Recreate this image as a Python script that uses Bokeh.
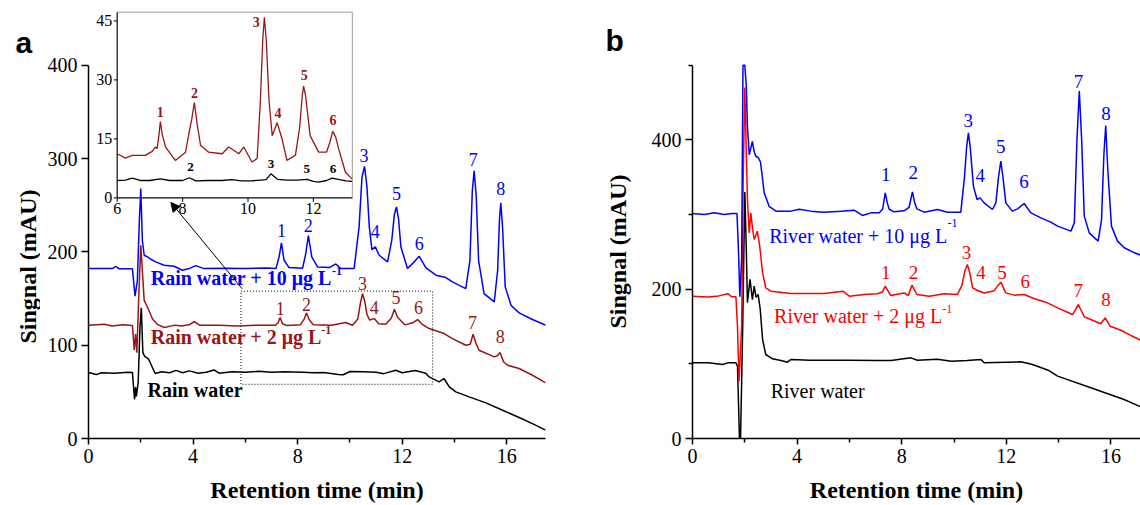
import math
from bokeh.plotting import figure
from bokeh.layouts import row
from bokeh.models import Range1d, FixedTicker, Arrow, NormalHead
from bokeh.core.properties import value
from bokeh.embed import file_html
from bokeh.resources import INLINE

SERIF = "Liberation Serif"
SANS = "Liberation Sans"
BLUE = "#0000FF"
DRED = "#9A1515"
RED = "#FF0000"
BLACK = "#000000"

# ---------------- data: panel a (retention time [min], signal [mAU]) ----------------
a_blue = [(0.0,182.1),(0.92,182.1),(1.04,184.6),(1.17,181.8),(1.68,181.8),(1.78,152.5),(1.87,169.6),(1.94,230),(2.0,268),
          (2.06,212.5),(2.13,196.4),(2.26,194.6),(2.38,192.1),(2.57,189.3),(2.89,185.7),(3.28,184.6),(3.59,180.3),(3.85,182.1),
          (4.1,185.3),(4.42,182.1),(5.25,182.5),(6.02,182.1),(6.78,182.8),(7.17,182.1),(7.29,194.6),(7.38,209.6),(7.48,191),
          (7.67,183.2),(8.19,182.5),(8.31,198.2),(8.41,217.5),(8.54,194.6),(8.76,183.9),(9.21,183.2),(9.46,187.1),(9.65,182.1),
          (10.16,182.1),(10.35,226.8),(10.46,280),(10.56,291.7),(10.65,270),(10.74,226.8),(10.84,202.5),(10.97,205.3),
          (11.12,196.4),(11.44,189.3),(11.6,212.5),(11.7,240),(11.78,248.2),(11.86,235),(11.95,205.3),(12.2,182.1),(12.46,189.3),
          (12.65,195.3),(12.9,183.2),(13.29,175),(13.67,172.5),(13.92,167.8),(14.43,160.7),(14.59,191),(14.68,265),(14.75,286.8),
          (14.83,260),(14.92,191),(15.13,155.3),(15.52,146.4),(15.65,180.3),(15.72,235),(15.77,252.5),(15.84,225),(15.94,162.5),
          (16.16,142.8),(16.47,134.6),(16.98,127.5),(17.49,121.4)]
a_dred = [(0.0,121.4),(0.6,122.5),(0.9,120.5),(1.3,121.8),(1.68,121.0),(1.75,95),(1.8,112),(1.85,92),(1.92,150),(2.0,207),
          (2.06,180),(2.13,148),(2.3,138),(2.45,128),(2.65,122),(2.9,119),(3.3,121.5),(3.55,120.5),(3.85,121.8),(4.04,125.3),
          (4.25,121.4),(5.0,121.4),(5.7,120.7),(6.5,121.4),(7.15,121.4),(7.25,124),(7.33,129.6),(7.42,123),(7.6,121),(8.1,121.8),
          (8.25,128),(8.34,134.6),(8.45,127),(8.6,121.8),(9.3,121.4),(9.84,124.3),(10.1,121.4),(10.3,128),(10.4,145),(10.48,155.3),
          (10.56,148),(10.65,133),(10.75,127),(10.93,128.5),(11.1,123),(11.37,122.5),(11.58,129),(11.7,138.5),(11.82,130),
          (12.1,121.8),(12.4,124),(12.59,127.5),(12.78,122),(13.03,117.8),(13.6,112.5),(13.92,107.1),(14.43,99.9),(14.6,101),
          (14.71,111.8),(14.82,102),(14.94,94.6),(15.52,87.5),(15.65,89),(15.74,92.1),(15.88,82),(16.03,78.5),(16.47,75),
          (16.98,67.8),(17.49,59.6)]
a_black = [(0.0,70.7),(0.3,68.5),(0.5,70.5),(1.0,70.0),(1.5,71),(1.68,70.7),(1.76,42),(1.8,55),(1.83,45),(1.9,60),(1.97,120),
           (2.02,140),(2.08,92),(2.15,88),(2.3,85),(2.55,69.6),(2.8,71.5),(3.1,70.5),(3.35,73),(3.6,70.5),(3.85,72.5),(4.2,70),
           (4.5,71),(4.8,73.5),(5.0,70),(5.5,71.5),(6.0,71),(6.5,72),(7.0,71),(7.5,71.5),(8.2,71),(8.6,70.5),(9.0,70.8),
           (9.55,68.5),(9.75,68.3),(10.0,71.8),(10.5,71.5),(11.0,71),(11.3,69.5),(11.75,73.2),(12.0,70.5),(12.5,72.8),(12.9,70),
           (13.03,66),(13.41,60.7),(13.6,64.3),(13.8,55.3),(14.05,50),(14.56,44.6),(15.2,38.2),(15.84,30.3),(16.47,22.5),
           (16.98,16),(17.49,8.9)]

# inset (zoom of rain water traces, 6-13.2 min)
in_dred = [(6.0,11.2),(6.25,10.1),(6.46,10.8),(6.65,10.8),(6.86,10.8),(7.07,11.8),(7.17,12.9),(7.22,12.5),(7.27,15.5),
           (7.32,19.4),(7.38,16),(7.48,12.9),(7.78,9.5),(8.09,11.6),(8.21,17.1),(8.28,20),(8.36,24.2),(8.44,19),(8.55,13.3),
           (8.8,11.6),(9.21,11.2),(9.41,12.9),(9.72,11.2),(9.87,12.9),(10.12,9.1),(10.28,10),(10.38,25),(10.45,40),(10.5,45.9),
           (10.56,40),(10.64,25),(10.74,15.8),(10.89,19.1),(11.04,15),(11.19,9.5),(11.45,10.8),(11.58,18),(11.66,26),(11.7,28.4),
           (11.76,26),(11.9,15.8),(12.16,11.6),(12.4,11.6),(12.5,14),(12.59,16.9),(12.68,15.5),(12.77,12.5),(12.98,6.5),(13.18,4.8)]
in_black = [(6.0,4.4),(6.25,4.5),(6.46,5.0),(6.7,4.4),(7.0,4.4),(7.32,4.8),(7.6,4.4),(8.0,4.4),(8.21,5.1),(8.4,4.3),(8.8,4.4),
            (9.2,4.4),(9.5,4.6),(9.8,4.3),(10.1,4.3),(10.4,4.5),(10.55,4.6),(10.7,6.1),(10.9,4.7),(11.2,4.5),(11.5,4.5),
            (11.8,4.7),(12.0,4.2),(12.16,4.0),(12.4,4.4),(12.57,5.0),(12.8,4.6),(13.0,4.3),(13.18,4.2)]

# ---------------- data: panel b (trace tops above 500 mAU are off-scale in the original) ----------------
b_blue = [(0.0,301.3),(0.45,300),(0.83,302.2),(1.21,300),(1.53,301.3),(1.7,301.3),(1.76,250),(1.81,190),(1.88,240),(1.93,500),
          (2.0,500),(2.06,470),(2.1,418),(2.17,380),(2.29,398),(2.36,384),(2.42,378),(2.52,376),(2.6,370),(2.65,356),(2.74,329),
          (2.93,311),(3.19,304.5),(3.76,304.5),(4.08,307),(4.52,304.5),(5.03,303),(5.67,304.5),(6.18,305.8),(6.5,298.7),
          (6.82,302.2),(7.14,302.2),(7.27,307),(7.37,329),(7.46,314),(7.52,307),(7.71,303.6),(8.09,304.9),(8.28,309.4),
          (8.41,330.4),(8.5,315),(8.58,307.6),(8.86,303.1),(9.37,306.7),(9.75,303.1),(10.26,303.1),(10.4,350),(10.48,390),
          (10.55,409.4),(10.62,390),(10.74,338),(10.88,320),(11.0,322.3),(11.15,315.6),(11.47,306.7),(11.6,315.6),(11.7,350),
          (11.79,371.4),(11.87,350),(11.98,315.6),(12.23,304.5),(12.43,307.6),(12.68,314.7),(12.94,302.2),(13.32,295.5),
          (13.7,289.7),(13.96,284.4),(14.47,277.7),(14.6,288.8),(14.7,400),(14.79,465.2),(14.88,400),(14.98,297.8),(15.17,275.4),
          (15.51,264.3),(15.64,292.9),(15.73,380),(15.8,419.2),(15.88,360),(16.02,284.4),(16.25,264.3),(16.51,255.4),
          (16.9,248.7),(17.14,245.5)]
b_red = [(0.0,190.6),(0.6,189.5),(1.0,191),(1.36,193.8),(1.5,189.7),(1.66,189.7),(1.72,150),(1.78,76.8),(1.88,150),(1.94,350),
         (2.0,470),(2.06,380),(2.1,320),(2.17,275.4),(2.23,302),(2.3,280),(2.36,266.5),(2.48,277.7),(2.57,257.6),(2.68,221.9),
         (2.8,201.8),(3.0,197.3),(3.76,194.2),(4.4,194.2),(5.03,194.2),(5.74,197.3),(6.0,190.6),(6.56,192.9),(7.07,193.8),
         (7.26,196.1),(7.37,204),(7.58,191.5),(8.09,195),(8.25,191.5),(8.39,205.4),(8.58,192.9),(9.05,190.6),(9.62,193.8),
         (10.13,192.9),(10.3,205),(10.42,225),(10.51,233),(10.6,222),(10.71,201.8),(10.9,198.2),(11.15,194.8),(11.54,198),
         (11.68,205),(11.79,209.4),(11.98,195),(12.3,192),(12.68,192.9),(13.05,187.5),(13.57,181.7),(13.96,175),(14.53,166),
         (14.65,173),(14.75,179.5),(14.98,163),(15.61,153.6),(15.78,161.6),(15.97,150.4),(16.38,145),(16.76,138),(17.14,131.7)]
b_black = [(0.0,101.3),(0.6,101.3),(1.15,99.1),(1.35,101.3),(1.66,101.3),(1.72,97),(1.82,-30),(1.92,150),(2.0,330),(2.06,250),
           (2.1,182),(2.2,213),(2.29,186),(2.36,204),(2.43,189),(2.51,193),(2.59,172.8),(2.68,132.6),(2.8,112.5),(3.06,106.7),
           (3.38,104.5),(3.63,102.2),(3.76,105.8),(4.5,104.9),(5.03,104.9),(6.0,104.9),(7.0,104.5),(7.6,104.5),(8.35,108),
           (8.6,104.9),(9.36,106),(9.9,103.6),(10.5,104.5),(11.03,105.8),(11.15,101.3),(12.56,102.7),(13.0,99),(13.6,91.5),
           (13.96,83.5),(15.23,67.9),(16.5,52.2),(17.14,42.4)]

# peak numbers
peak_txt = ["1", "2", "3", "4", "5", "6", "7", "8"]
a_blue_lbl_t = [7.38, 8.41, 10.54, 10.97, 11.78, 12.65, 14.72, 15.77]
a_blue_lbl_v = [223, 228.5, 303, 222, 262.5, 209, 299, 268]
a_dred_lbl_t = [7.33, 8.34, 10.48, 10.93, 11.76, 12.62, 14.69, 15.75]
a_dred_lbl_v = [139.2, 143.9, 166, 140.3, 151, 140.3, 124.2, 108.9]
in_dred_txt = ["1", "2", "3", "4", "5", "6"]
in_dred_lbl_t = [7.32, 8.36, 10.25, 10.92, 11.72, 12.6]
in_dred_lbl_v = [21.8, 26.7, 44.7, 21.6, 31.1, 19.9]
in_black_txt = ["2", "3", "5", "6"]
in_black_lbl_t = [8.24, 10.7, 11.8, 12.6]
in_black_lbl_v = [7.8, 8.5, 7.2, 7.2]
b_blue_lbl_t = [7.39, 8.44, 10.54, 11.0, 11.79, 12.68, 14.76, 15.81]
b_blue_lbl_v = [353.6, 355.8, 425.9, 352.7, 390.6, 343.8, 478.6, 435.3]
b_red_lbl_t = [7.39, 8.45, 10.48, 11.03, 11.83, 12.72, 14.75, 15.81]
b_red_lbl_v = [221.9, 222.8, 249.6, 221.9, 222.8, 210.7, 198.7, 186.2]

x_major = [0, 4, 8, 12, 16]
x_minor = [2, 6, 10, 14]
a_y_major = [0, 100, 200, 300, 400]
b_y_major = [0, 200, 400]
b_y_minor = [100, 300, 500]
in_x_ticks = [6, 8, 10, 12]
in_y_ticks = [0, 15, 30, 45]

Y_TITLE = "Singnal (mAU)"
X_TITLE = "Retention time (min)"


def unzip(pairs):
    return [p[0] for p in pairs], [p[1] for p in pairs]


def style(p, ymaj, ymin):
    p.xgrid.visible = False
    p.ygrid.visible = False
    p.outline_line_color = None
    p.background_fill_color = "white"
    p.border_fill_color = "white"
    p.xaxis.ticker = FixedTicker(ticks=x_major, minor_ticks=x_minor)
    p.yaxis.ticker = FixedTicker(ticks=ymaj, minor_ticks=ymin)
    for ax in (p.xaxis, p.yaxis):
        ax.axis_line_color = BLACK
        ax.axis_line_width = 1.5
        ax.major_tick_line_width = 1.5
        ax.minor_tick_line_width = 1.5
        ax.major_tick_in = 0
        ax.minor_tick_in = 0
        ax.minor_tick_out = 4
        ax.major_label_text_font = SERIF
        ax.major_label_text_font_size = "20px"
        ax.major_label_text_color = BLACK
        ax.axis_label_text_font = SERIF
        ax.axis_label_text_font_style = "bold"
        ax.axis_label_text_font_size = "24px"
        ax.axis_label_text_color = BLACK
    p.xaxis.major_tick_out = 6
    p.yaxis.major_tick_out = 7
    p.xaxis.major_label_standoff = 4
    p.xaxis.axis_label_standoff = 11
    p.yaxis.major_label_standoff = 4
    p.xaxis.axis_label = X_TITLE


def labels(p, xs, ys, txt, color, size, bold=False, align="center", **kw):
    p.text(x=xs, y=ys, text=txt, text_color=color, text_font=value(SERIF), text_font_size=size,
           text_font_style="bold" if bold else "normal", text_align=align, text_baseline="middle", **kw)


def side_strip(width, letter, letter_x, letter_y, title_x, title_y):
    """Narrow strip left of a panel carrying the panel letter and the vertical axis title (pixel coordinates)."""
    s = figure(frame_width=width, frame_height=428, min_border_left=0, min_border_right=0, min_border_top=10,
               min_border_bottom=0, x_range=Range1d(0, width), y_range=Range1d(0, 428),
               x_axis_location=None, y_axis_location=None,
               output_backend="svg", toolbar_location=None, tools="")
    s.grid.visible = False
    s.outline_line_color = None
    s.border_fill_color = "white"
    s.text(x=[letter_x], y=[letter_y], text=[letter], text_font=value(SANS), text_font_style="bold",
           text_font_size="30px", text_color=BLACK, text_align="left", text_baseline="alphabetic")
    s.text(x=[title_x], y=[title_y], text=[Y_TITLE], text_font=value(SERIF), text_font_style="bold",
           text_font_size="24px", text_color=BLACK, text_align="center", text_baseline="middle",
           angle=math.pi / 2)
    return s


# ================= panel a =================
sa = side_strip(40, "a", 15, 396, 27, 172)

pa = figure(frame_width=457, frame_height=428, min_border_left=48, min_border_right=57, min_border_top=10,
            min_border_bottom=0, x_range=Range1d(0, 17.48), y_range=Range1d(0, 458.7),
            output_backend="svg", toolbar_location=None, tools="")
style(pa, a_y_major, [])
pa.yaxis.bounds = (0, 400)

pa.extra_x_ranges = {"ix": Range1d(5.122, 19.098)}
pa.extra_y_ranges = {"iy": Range1d(-61.2, 47.62)}

for pairs, col in ((a_black, BLACK), (a_dred, DRED), (a_blue, BLUE)):
    t, v = unzip(pairs)
    pa.line(t, v, line_color=col, line_width=1.5)

# dotted zoom box and arrow
box_t0, box_t1, box_v0, box_v1 = 5.83, 13.16, 58, 158
pa.quad(left=[box_t0], right=[box_t1], bottom=[box_v0], top=[box_v1], fill_color=None,
        line_color="#333333", line_width=1.2, line_dash="1 2")
pa.add_layout(Arrow(x_start=5.88, y_start=160.4, x_end=3.15, y_end=253,
                    line_color=BLACK, line_width=1,
                    end=NormalHead(size=9, fill_color=BLACK, line_color=BLACK)))

labels(pa, a_blue_lbl_t, a_blue_lbl_v, peak_txt, BLUE, "18px")
labels(pa, a_dred_lbl_t, a_dred_lbl_v, peak_txt, DRED, "18px")
labels(pa, [2.38], [171.5], ["Rain water + 10 \u03bcg L"], BLUE, "20px", bold=True, align="left")
labels(pa, [9.31], [179], ["-1"], BLUE, "12px", bold=True, align="left")
labels(pa, [2.38], [108.9], ["Rain water + 2 \u03bcg L"], DRED, "20px", bold=True, align="left")
labels(pa, [8.9], [116], ["-1"], DRED, "12px", bold=True, align="left")
labels(pa, [2.26], [52.5], ["Rain water"], BLACK, "20px", bold=True, align="left")

# inset (drawn on extra ranges)
ir = dict(x_range_name="ix", y_range_name="iy")
in_t0, in_t1, in_v0, in_v1 = 6, 13.19, 0, 47.2
pa.quad(left=[in_t0], right=[in_t1], bottom=[in_v0], top=[in_v1], fill_color=None,
        line_color="#9a9a9a", line_width=1, **ir)
pa.segment(x0=[in_t0, in_t0], y0=[in_v0, in_v0], x1=[in_t0, in_t1], y1=[in_v1, in_v0],
           line_color="#222222", line_width=1.2, **ir)
pa.segment(x0=in_x_ticks, y0=[0] * 4, x1=in_x_ticks, y1=[-1.0] * 4, line_color="#222222", line_width=1.2, **ir)
pa.segment(x0=[6] * 4, y0=in_y_ticks, x1=[5.9] * 4, y1=in_y_ticks, line_color="#222222", line_width=1.2, **ir)
pa.text(x=in_x_ticks, y=[-1.4] * 4, text=[str(v) for v in in_x_ticks], text_font=value(SERIF),
        text_font_size="16px", text_align="center", text_baseline="top", text_color=BLACK, **ir)
pa.text(x=[5.85] * 4, y=in_y_ticks, text=[str(v) for v in in_y_ticks], text_font=value(SERIF),
        text_font_size="16px", text_align="right", text_baseline="middle", text_color=BLACK, **ir)
for pairs, col in ((in_black, BLACK), (in_dred, DRED)):
    t, v = unzip(pairs)
    pa.line(t, v, line_color=col, line_width=1.3, **ir)
labels(pa, in_dred_lbl_t, in_dred_lbl_v, in_dred_txt, DRED, "14px", bold=True, **ir)
labels(pa, in_black_lbl_t, in_black_lbl_v, in_black_txt, BLACK, "13px", bold=True, **ir)

# ================= panel b =================
sb = side_strip(45, "b", 3, 398, 15, 187)

pb = figure(frame_width=448, frame_height=428, min_border_left=45, min_border_right=0, min_border_top=10,
            min_border_bottom=0, x_range=Range1d(0, 17.13), y_range=Range1d(0, 573.2),
            output_backend="svg", toolbar_location=None, tools="")
style(pb, b_y_major, b_y_minor)
pb.yaxis.bounds = (0, 500)

for pairs, col in ((b_black, BLACK), (b_red, RED), (b_blue, BLUE)):
    t, v = unzip(pairs)
    pb.line(t, v, line_color=col, line_width=1.5)

labels(pb, b_blue_lbl_t, b_blue_lbl_v, peak_txt, BLUE, "19px")
labels(pb, b_red_lbl_t, b_red_lbl_v, peak_txt, RED, "19px")
labels(pb, [2.93], [271], ["River water + 10 \u03bcg L"], BLUE, "20px", align="left")
labels(pb, [9.75], [288.8], ["-1"], BLUE, "12px", align="left")
labels(pb, [3.12], [164.7], ["River water + 2 \u03bcg L"], RED, "20px", align="left")
labels(pb, [9.55], [172.8], ["-1"], RED, "12px", align="left")
labels(pb, [2.99], [63.4], ["River water"], BLACK, "20px", align="left")

layout = row(sa, pa, sb, pb)
open("out.html", "w").write(file_html(layout, INLINE))
